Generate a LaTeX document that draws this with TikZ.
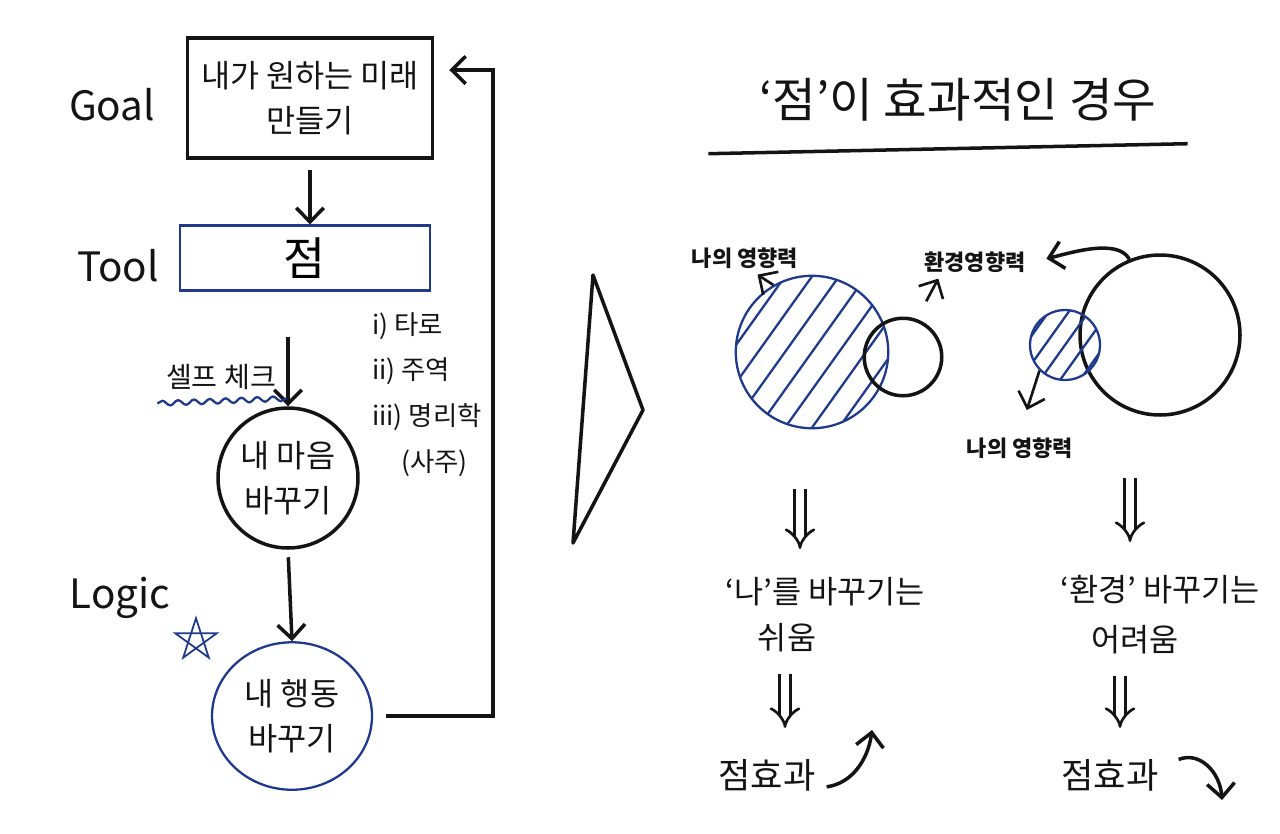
\documentclass[tikz,border=0pt]{standalone}
\usepackage{fontspec}
\setmainfont{Noto Sans CJK KR}
\usetikzlibrary{arrows.meta, positioning, shapes.geometric, decorations.pathmorphing, calc}
\definecolor{inkblack}{HTML}{141414}
\definecolor{inkblue}{HTML}{1F3A8C}

\tikzset{
  ink/.style={draw=inkblack, line width=2pt},
  blueink/.style={draw=inkblue, line width=1.3pt},
  barb/.style={-{Straight Barb[length=2.8mm, width=5.5mm]}},
  dblarrow/.style={draw=inkblack, double=white, double distance=4.5pt, line width=1.5pt, -{Implies[scale=1.9]}},
  hand/.style={font=\fontsize{18}{26}\selectfont, text=inkblack, align=center},
  sidelbl/.style={font=\fontsize{23}{26}\selectfont, text=inkblack},
  tinylbl/.style={font=\fontsize{12.5}{14}\selectfont\bfseries, text=inkblack},
}

\begin{document}
\begin{tikzpicture}[x=0.02cm, y=-0.02cm]
  \fill[white] (0,0) rectangle (1280,833);
  \useasboundingbox (0,0) rectangle (1280,833);

  % left: goal / tool / logic
  \node[sidelbl] (goallbl) at (112,105) {Goal};
  \node[sidelbl] (toollbl) at (118,266) {Tool};
  \node[sidelbl] (logiclbl) at (120,598) {Logic};

  \node[ink, rectangle, minimum width=4.9cm, minimum height=2.4cm, hand] (goal) at (310,98)
    {내가 원하는 미래\\만들기};
  \node[blueink, rectangle, minimum width=5cm, minimum height=1.3cm,
    font=\fontsize{26}{28}\selectfont] (tool) at (305,258) {점};
  \draw[ink, barb, shorten <=0.2cm] (goal.south) -- (goal.south |- tool.north);

  \node[ink, circle, minimum size=2.8cm, hand] (mind) at (288,478) {내 마음\\바꾸기};
  \draw[ink, barb, shorten <=0.9cm] (tool.south -| mind.north) -- (mind.north);

  \node[hand, font=\fontsize{16}{18}\selectfont] (selfchk) at (221,377) {셀프 체크};
  \draw[blueink, decorate, decoration={snake, amplitude=1.4pt, segment length=9pt}]
    ([xshift=-0.05cm, yshift=-0.15cm]selfchk.south west) -- ([xshift=0.1cm, yshift=-0.05cm]selfchk.south east);

  \node[hand, align=left, anchor=north west, font=\fontsize{15}{26}\selectfont] (kinds) at (366,306)
    {i) 타로\\ii) 주역\\iii) 명리학\\\hspace*{1.1em}(사주)};

  \node[blueink, ellipse, minimum width=3.2cm, minimum height=2.95cm, hand] (act) at (292,716)
    {내 행동\\바꾸기};
  \draw[ink, barb, shorten <=0.15cm] (mind.south) -- (act.north);

  \node[star, star points=5, minimum size=0.85cm, inner sep=0pt] (star) at (196,640) {};
  \draw[blueink, line width=1pt] (star.outer point 1) -- (star.outer point 3) -- (star.outer point 5)
    -- (star.outer point 2) -- (star.outer point 4) -- cycle;

  \coordinate (loopin) at ([yshift=0.56cm]goal.east);
  \draw[ink, barb, shorten <=0.25cm, shorten >=0.3cm] (act.east) -- ++(120,0) |- (loopin);

  % divider
  \draw[ink, line join=round] (593,275) -- (643,410) -- (573,543) -- cycle;

  % right: title
  \node[font=\fontsize{27}{30}\selectfont, text=inkblack] (title) at (958,100) {‘점’이 효과적인 경우};
  \draw[ink] ($(title.south west)+(-45,26)$) -- ($(title.south east)+(25,16)$);

  % venn, easy case
  \node[blueink, circle, minimum size=3.05cm] (mine1) at (812,352) {};
  \begin{scope}
    \clip (mine1.center) circle (1.52cm);
    \foreach \k in {-7,...,7}
      \draw[blueink] ($(mine1.center)+(\k*27-80,112)$) -- ++(160,-224);
  \end{scope}
  \node[ink, circle, minimum size=1.55cm] (env1) at (903,357) {};

  \node[tinylbl] (mylbl1) at (745,258) {나의 영향력};
  \draw[ink, barb, line width=1.5pt] (mine1.120) -- ([xshift=0.25cm]mylbl1.south);
  \node[tinylbl] (envlbl) at (975,262) {환경영향력};
  \draw[ink, barb, line width=1.5pt, shorten <=0.4cm] (env1.70) -- ([xshift=0.4cm]envlbl.south west);

  % venn, hard case
  \node[ink, circle, minimum size=3.2cm] (env2) at (1160,335) {};
  \node[blueink, circle, minimum size=1.4cm] (mine2) at (1065,345) {};
  \begin{scope}
    \clip (mine2.center) circle (0.7cm);
    \foreach \k in {-3,...,3}
      \draw[blueink] ($(mine2.center)+(\k*20-40,56)$) -- ++(80,-112);
  \end{scope}
  \draw[ink, barb, shorten >=0.3cm] (env2.112) .. controls +(-12,-22) and +(35,-8) .. (envlbl.east);
  \node[tinylbl] (mylbl2) at (1020,448) {나의 영향력};
  \draw[ink, barb, line width=1.5pt, shorten >=0.45cm] (mine2.225) -- (mylbl2.north);

  % consequences
  \node[hand] (easy1) at (825,592) {‘나’를 바꾸기는};
  \node[hand] (easy2) at (787,638) {쉬움};
  \node[hand] (hard1) at (1160,590) {‘환경’ 바꾸기는};
  \node[hand] (hard2) at (1135,640) {어려움};
  \draw[dblarrow, shorten <=1.2cm, shorten >=0.45cm] (mine1.south -| 800,0) -- (800,0 |- easy1.north);
  \coordinate (hardtop) at (1130,478);
  \draw[dblarrow, shorten >=0.55cm] (hardtop) -- (hardtop |- hard1.north);

  \node[hand, font=\fontsize{20}{22}\selectfont] (eff1) at (767,775) {점효과};
  \node[hand, font=\fontsize{20}{22}\selectfont] (eff2) at (1110,775) {점효과};
  \draw[dblarrow, shorten <=0.3cm, shorten >=0.5cm] (785,0 |- easy2.south) -- (785,0 |- eff1.north);
  \draw[dblarrow, shorten <=0.3cm, shorten >=0.5cm] (1120,0 |- hard2.south) -- (1120,0 |- eff2.north);

  \coordinate (upend) at (872,730);
  \coordinate (downend) at (1222,800);
  \draw[ink, barb, shorten <=0.1cm] ([yshift=-0.25cm]eff1.east) .. controls +(30,-4) and +(-4,30) .. (upend);
  \draw[ink, barb, shorten <=0.3cm] ([yshift=0.2cm]eff2.east) .. controls +(35,-14) and +(-2,-28) .. (downend);
\end{tikzpicture}
\end{document}
